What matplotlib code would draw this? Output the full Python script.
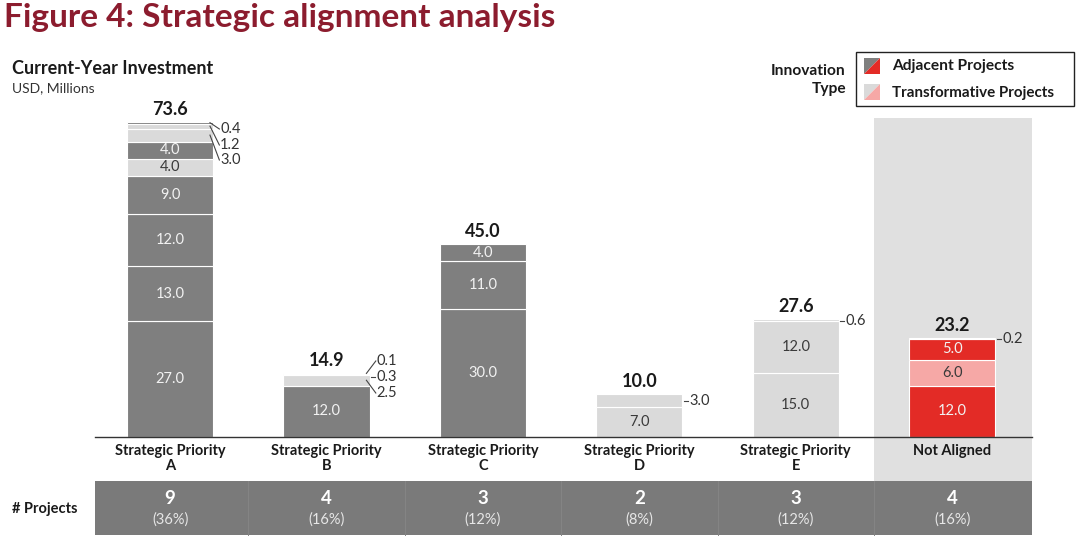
import matplotlib
matplotlib.use("Agg")
import matplotlib.pyplot as plt
from matplotlib.patches import Rectangle, Polygon

plt.rcParams['font.family'] = ['Lato', 'DejaVu Sans']

# ---------------- data ----------------
categories = ["Strategic Priority\nA", "Strategic Priority\nB", "Strategic Priority\nC",
              "Strategic Priority\nD", "Strategic Priority\nE", "Not Aligned"]
seg_A = [27.0, 13.0, 12.0, 9.0, 4.0, 4.0, 3.0, 1.2, 0.4]
typ_A = ["adj", "adj", "adj", "adj", "trans", "adj", "trans", "trans", "adj"]
seg_B = [12.0, 2.5, 0.3, 0.1]
typ_B = ["adj", "trans", "trans", "trans"]
seg_C = [30.0, 11.0, 4.0]
typ_C = ["adj", "adj", "adj"]
seg_D = [7.0, 3.0]
typ_D = ["trans", "trans"]
seg_E = [15.0, 12.0, 0.6]
typ_E = ["trans", "trans", "trans"]
seg_N = [12.0, 6.0, 5.0, 0.2]
typ_N = ["adj", "trans", "adj", "trans"]
segments = [seg_A, seg_B, seg_C, seg_D, seg_E, seg_N]
types = [typ_A, typ_B, typ_C, typ_D, typ_E, typ_N]
project_counts = [9, 4, 3, 2, 3, 4]
project_pcts = ["(36%)", "(16%)", "(12%)", "(8%)", "(12%)", "(16%)"]

# ---------------- style ----------------
DARK = "#7f7f7f"
LIGHT = "#dadada"
RED = "#e32b26"
PINK = "#f6a8a6"
BG_NA = "#e0e0e0"
TABLE = "#7a7a7a"
TITLE_RED = "#8c1c2e"
TXT = "#1a1a1a"

W, H = 1080, 542
fig = plt.figure(figsize=(W / 100, H / 100), dpi=100)
fig.patch.set_facecolor("white")

def fx(x):
    return x / W

def fy(y):
    return 1 - y / H

YMAX = 74.5
ax = fig.add_axes([fx(95), fy(437), fx(1032) - fx(95), fy(118) - fy(437)])
ax.set_xlim(-0.48, 5.51)
ax.set_ylim(0, YMAX)
ax.axis("off")
PPU = (437 - 118) / YMAX  # pixels per unit

def uy(px_below):  # pixels below baseline -> data units
    return -px_below / PPU

BW = 0.55

# background for Not Aligned column
ax.add_patch(Rectangle((4.5, uy(481 - 437)), 5.51 - 4.5, YMAX - uy(481 - 437),
                       facecolor=BG_NA, edgecolor="none", zorder=0, clip_on=False))

# bars
for i, (segs, tps) in enumerate(zip(segments, types)):
    bottom = 0.0
    na = (i == 5)
    for v, t in zip(segs, tps):
        if na:
            col = RED if t == "adj" else PINK
        else:
            col = DARK if t == "adj" else LIGHT
        ax.bar(i, v, bottom=bottom, width=BW, color=col, edgecolor="white",
               linewidth=0.8, zorder=2)
        if v >= 4:
            tc = "#f2f2f2" if t == "adj" else "#3a3a3a"
            ax.text(i, bottom + v / 2, f"{v:.1f}", ha="center", va="center",
                    fontsize=10.5, color=tc, zorder=3)
        bottom += v
    total = sum(segs)
    ax.text(i, total + 0.9, f"{total:.1f}", ha="center", va="bottom",
            fontsize=13, fontweight="bold", color=TXT, zorder=3)

# outside labels for small segments: (category, segment index, label y px)
outside = [(0, 8, 129), (0, 7, 145), (0, 6, 160),
           (1, 3, 361), (1, 2, 377), (1, 1, 393),
           (3, 1, 401), (4, 2, 321), (5, 3, 339)]
for ci, si, ypx in outside:
    segs = segments[ci]
    v = segs[si]
    mid = sum(segs[:si]) + v / 2
    ly = (437 - ypx) / PPU
    lx = ci + 0.32
    x0 = ci + BW / 2 - 0.02
    if abs(ly - mid) < 0.8:
        ax.plot([ci + BW / 2 + 0.01, lx - 0.01], [ly, ly], color="#444444", lw=0.8,
                zorder=3, clip_on=False)
    else:
        ax.plot([x0, lx - 0.005], [mid, ly], color="#444444", lw=0.8, zorder=3,
                clip_on=False)
    ax.text(lx, ly, f"{v:.1f}", ha="left", va="center", fontsize=10.5,
            color="#333333", zorder=3, clip_on=False)

# baseline
ax.plot([-0.48, 5.51], [0, 0], color="#333333", lw=1.0, zorder=4, clip_on=False)

# category labels
for i, c in enumerate(categories):
    ax.text(i, uy(7), c, ha="center", va="top", fontsize=10.5, fontweight="bold",
            color=TXT, linespacing=1.05, clip_on=False)

# table band
t_top, t_bot = uy(481 - 437), uy(535 - 437)
ax.add_patch(Rectangle((-0.48, t_bot), 5.99, t_top - t_bot, facecolor=TABLE,
                       edgecolor="none", zorder=1, clip_on=False))
for k in range(5):
    ax.plot([k + 0.5, k + 0.5], [t_bot, t_top], color="#858585", lw=0.7,
            zorder=2, clip_on=False)
for i, (n, p) in enumerate(zip(project_counts, project_pcts)):
    ax.text(i, uy(499 - 437), str(n), ha="center", va="center", fontsize=13.5,
            fontweight="bold", color="white", clip_on=False)
    ax.text(i, uy(520 - 437), p, ha="center", va="center", fontsize=10.5,
            color="#e6e6e6", clip_on=False)

fig.text(fx(12), fy(509), "# Projects", ha="left", va="center", fontsize=10.5,
         fontweight="bold", color=TXT)

# titles
fig.text(fx(4), fy(18), "Figure 4: Strategic alignment analysis", ha="left",
         va="center", fontsize=24, fontweight="bold", color=TITLE_RED)
fig.text(fx(12), fy(69), "Current-Year Investment", ha="left", va="center",
         fontsize=13, fontweight="bold", color=TXT)
fig.text(fx(12), fy(88), "USD, Millions", ha="left", va="center",
         fontsize=10, color="#333333")

# legend
fig.patches.append(Rectangle((fx(856), fy(106)), fx(1074) - fx(856), fy(52) - fy(106),
                             transform=fig.transFigure, facecolor="white",
                             edgecolor="#222222", lw=1.0))

def split_square(x0, y0, s, c1, c2):
    fig.patches.append(Polygon([(fx(x0), fy(y0)), (fx(x0 + s), fy(y0)), (fx(x0), fy(y0 + s))],
                               closed=True, transform=fig.transFigure,
                               facecolor=c1, edgecolor="none"))
    fig.patches.append(Polygon([(fx(x0 + s), fy(y0)), (fx(x0 + s), fy(y0 + s)), (fx(x0), fy(y0 + s))],
                               closed=True, transform=fig.transFigure,
                               facecolor=c2, edgecolor="none"))

split_square(864, 58, 16, DARK, RED)
split_square(864, 84, 16, LIGHT, PINK)
fig.text(fx(892), fy(66), "Adjacent Projects", ha="left", va="center",
         fontsize=11.2, fontweight="bold", color=TXT)
fig.text(fx(892), fy(93), "Transformative Projects", ha="left", va="center",
         fontsize=10.9, fontweight="bold", color=TXT)
fig.text(fx(846), fy(71), "Innovation", ha="right", va="center",
         fontsize=11.2, fontweight="bold", color=TXT)
fig.text(fx(846), fy(89), "Type", ha="right", va="center",
         fontsize=11.2, fontweight="bold", color=TXT)

fig.savefig("out.png", dpi=100)
